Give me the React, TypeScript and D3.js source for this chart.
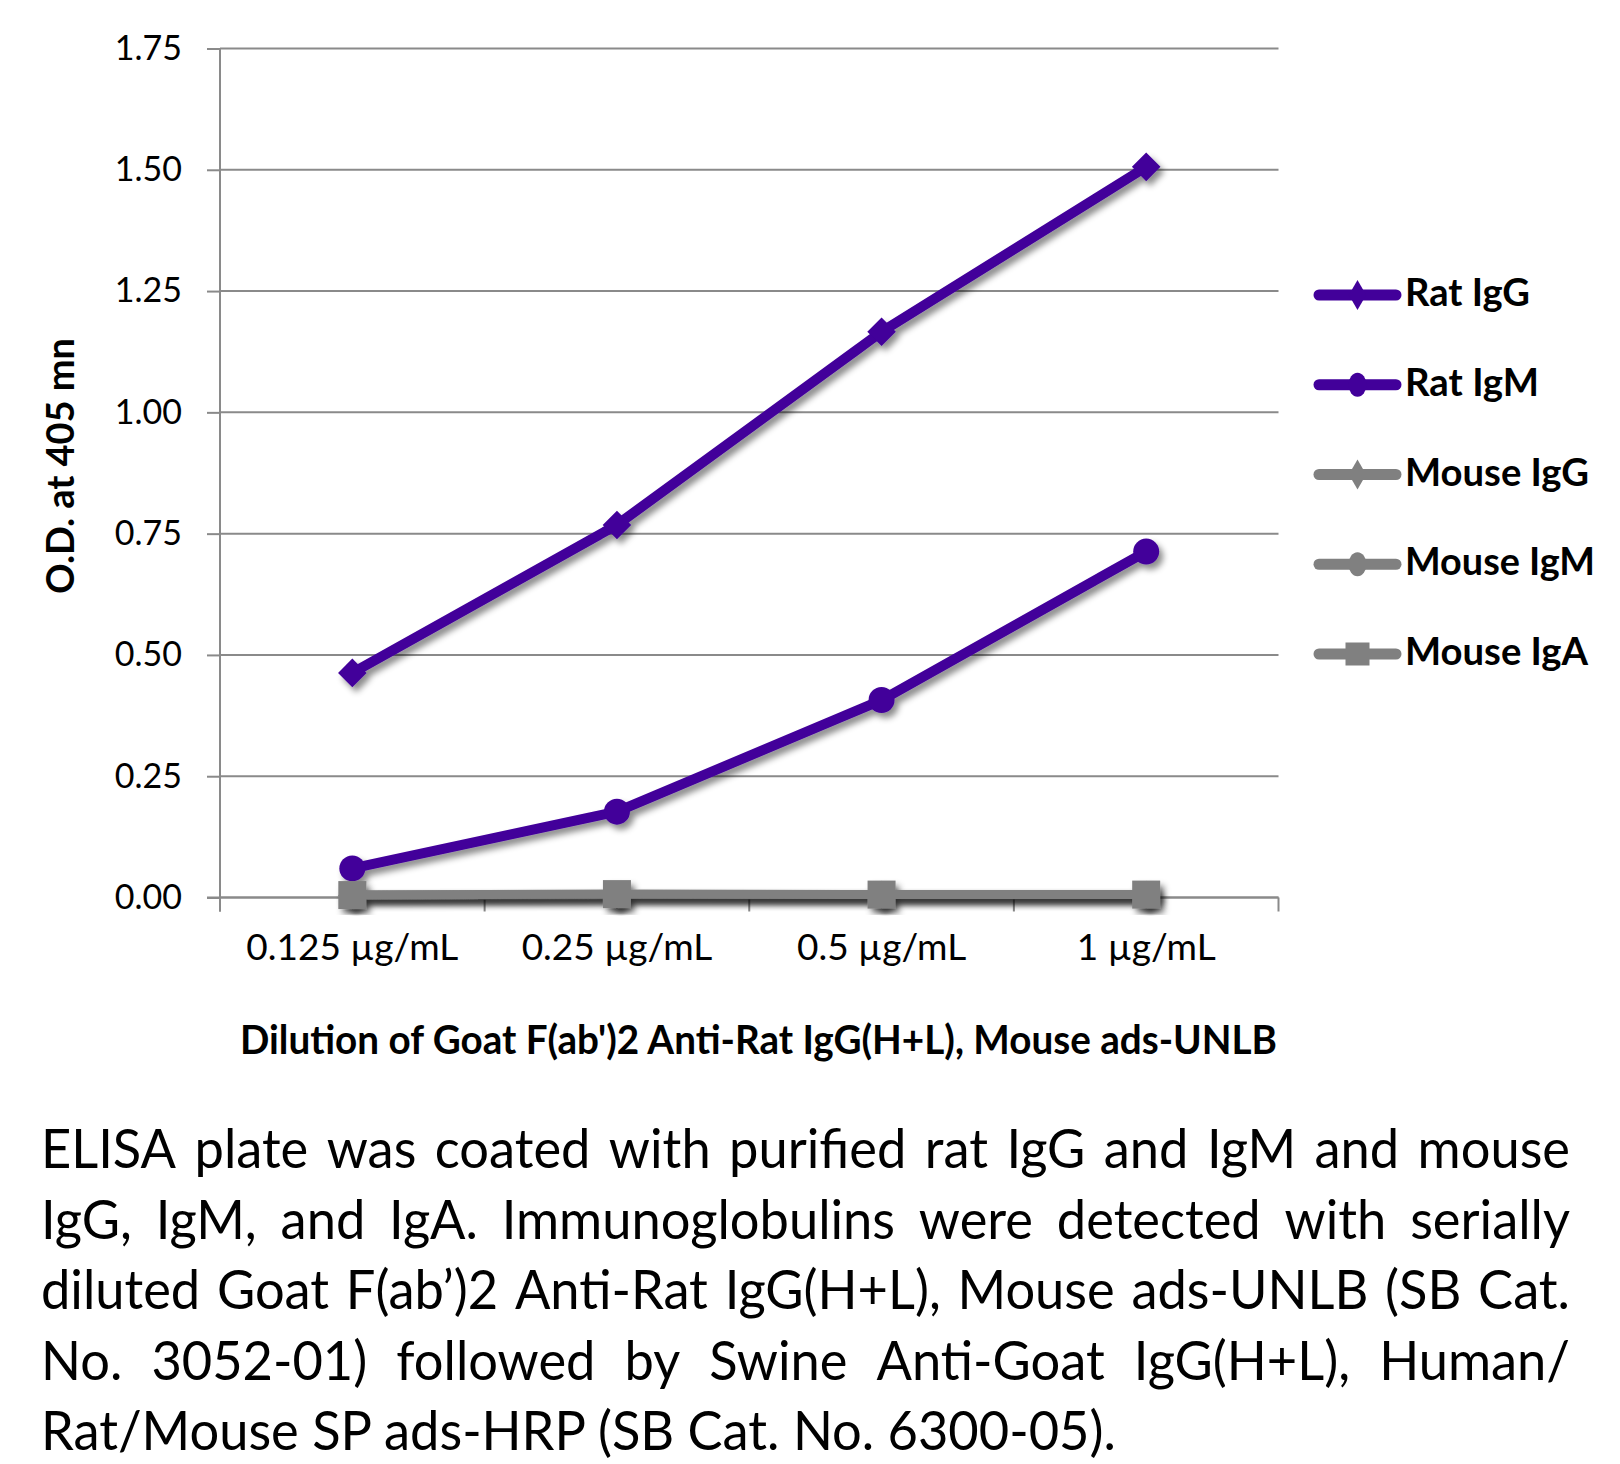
import React, { useRef, useEffect } from 'react';
import * as d3 from 'd3';

// dilutions on the x axis
const categories = ['0.125 µg/mL', '0.25 µg/mL', '0.5 µg/mL', '1 µg/mL'];

// O.D. at 405
const ratIgG = [0.463, 0.768, 1.166, 1.506];
const ratIgM = [0.06, 0.177, 0.407, 0.713];
const mouseIgG = [0.004, 0.005, 0.005, 0.005];
const mouseIgM = [0.005, 0.006, 0.006, 0.006];
const mouseIgA = [0.005, 0.007, 0.006, 0.006];

const seriesNames = ['Rat IgG', 'Rat IgM', 'Mouse IgG', 'Mouse IgM', 'Mouse IgA'];
const seriesValues = [ratIgG, ratIgM, mouseIgG, mouseIgM, mouseIgA];
const seriesMarkers = ['diamond', 'circle', 'diamond', 'circle', 'square'];

const yTicks = [0, 0.25, 0.5, 0.75, 1.0, 1.25, 1.5, 1.75];

const yTitle = 'O.D. at 405 mn';
const xTitle = "Dilution of Goat F(ab')2 Anti-Rat IgG(H+L), Mouse ads-UNLB";

const captionLines = [
  'ELISA plate was coated with purified rat IgG and IgM and mouse',
  'IgG, IgM, and IgA.  Immunoglobulins were detected with serially',
  'diluted Goat F(ab’)2 Anti-Rat IgG(H+L), Mouse ads-UNLB (SB Cat.',
  'No. 3052-01) followed by Swine Anti-Goat IgG(H+L), Human/',
  'Rat/Mouse SP ads-HRP (SB Cat. No. 6300-05).',
];

const PURPLE = '#42009a';
const GRAY = '#808080';
const GRID = '#8a8a8a';
const FONT = 'Lato, "Open Sans", sans-serif';

const W = 1620;
const H = 1464;

const App: React.FC = () => {
  const svgRef = useRef<SVGSVGElement>(null);

  const plot = { left: 220, right: 1278.5, top: 48.5, bottom: 897.5 };

  const x = d3.scaleBand<string>()
    .domain(categories)
    .range([plot.left, plot.right])
    .padding(0);

  const y = d3.scaleLinear()
    .domain([0, 1.75])
    .range([plot.bottom, plot.top]);

  const cx = (i: number) => (x(categories[i]) as number) + x.bandwidth() / 2;

  const line = d3.line<number>()
    .x((_, i) => cx(i))
    .y((d) => y(d));

  const colorOf = (i: number) => (i < 2 ? PURPLE : GRAY);

  useEffect(() => {
    if (!svgRef.current) return;
    const svg = d3.select(svgRef.current);

    // Y axis
    const yAxis = svg.select<SVGGElement>('.y-axis')
      .attr('transform', `translate(${plot.left},0)`)
      .call(d3.axisLeft(y).tickValues(yTicks).tickFormat(d3.format('.2f')).tickSizeInner(13).tickSizeOuter(0).tickPadding(25));
    yAxis.select('.domain').remove();
    yAxis.selectAll('line').attr('stroke', GRID).attr('stroke-width', 2);
    yAxis.selectAll('text')
      .style('font-family', FONT)
      .style('font-size', '34px')
      .attr('fill', '#000');

    // X axis labels
    const xAxis = svg.select<SVGGElement>('.x-axis')
      .attr('transform', `translate(0,${plot.bottom})`)
      .call(d3.axisBottom(x).tickSize(0).tickPadding(36));
    xAxis.select('.domain').remove();
    xAxis.selectAll('text')
      .style('font-family', FONT)
      .style('font-size', '37px')
      .attr('fill', '#000');

    // Caption: condense to the reference face, then justify
    const cap = svg.select<SVGGElement>('.caption');
    const last = cap.select<SVGTextElement>('.cap-4').node();
    if (!last) return;
    const k = 1075 / last.getComputedTextLength();
    cap.attr('transform', `translate(41,0) scale(${k},1)`);
    const target = 1529 / k;
    for (let li = 0; li < 4; li++) {
      const t = cap.select<SVGTextElement>(`.cap-${li}`);
      const spans = t.selectAll<SVGTSpanElement, unknown>('tspan').nodes();
      const widths = spans.map((s) => s.getComputedTextLength());
      const total = d3.sum(widths);
      const gap = (target - total) / (spans.length - 1);
      let pos = 0;
      spans.forEach((s, i) => {
        d3.select(s).attr('x', pos);
        pos += widths[i] + gap;
      });
    }
  }, []);

  const boundaries = [...categories.map((c) => x(c) as number), plot.right];

  const marker = (type: string, px: number, py: number, color: string, key: string, legend = false) => {
    if (type === 'circle') {
      return legend
        ? <ellipse key={key} cx={px} cy={py} rx={9} ry={12} fill={color} />
        : <circle key={key} cx={px} cy={py} r={13} fill={color} />;
    }
    if (type === 'square') {
      return legend
        ? <rect key={key} x={px - 12} y={py - 11.5} width={24} height={23} fill={color} />
        : <rect key={key} x={px - 14} y={py - 14} width={28} height={28} fill={color} />;
    }
    const sym = legend
      ? d3.symbol(d3.symbolDiamond, 260)
      : d3.symbol(d3.symbolDiamond2, 520);
    return <path key={key} d={sym() as string} transform={`translate(${px},${py})`} fill={color} />;
  };

  const legendY = (i: number) => 295 + i * 89.75;
  const legendWidths = [125, 134, 184, 190, 183];

  return (
    <svg
      ref={svgRef}
      width={W}
      height={H}
      viewBox={`0 0 ${W} ${H}`}
      style={{ position: 'absolute', left: 0, top: 0, background: '#fff' }}
    >
      <defs>
        <filter id="shadow" x="-20%" y="-20%" width="140%" height="140%">
          <feDropShadow dx="4" dy="5" stdDeviation="3" floodColor="#000" floodOpacity="0.45" />
        </filter>
      </defs>
      <rect width={W} height={H} fill="#fff" />

      {/* gridlines */}
      <g>
        {yTicks.map((t) => (
          <line key={t} x1={plot.left} x2={plot.right} y1={y(t)} y2={y(t)} stroke={GRID} strokeWidth={2} />
        ))}
      </g>

      {/* axis lines */}
      <line x1={plot.left} x2={plot.left} y1={plot.top} y2={plot.bottom + 14} stroke={GRID} strokeWidth={2} />
      <line x1={plot.left - 13} x2={plot.right} y1={plot.bottom} y2={plot.bottom} stroke={GRID} strokeWidth={2} />
      {boundaries.map((b) => (
        <line key={b} x1={b} x2={b} y1={plot.bottom} y2={plot.bottom + 14} stroke={GRID} strokeWidth={2} />
      ))}

      <g className="y-axis" />
      <g className="x-axis" />

      {/* series */}
      {seriesValues.map((vals, si) => (
        <g key={seriesNames[si]} filter="url(#shadow)">
          <path d={line(vals) as string} fill="none" stroke={colorOf(si)} strokeWidth={si < 2 ? 10 : 9} strokeLinejoin="round" />
          {vals.map((v, i) => marker(seriesMarkers[si], cx(i), y(v), colorOf(si), `${si}-${i}`))}
        </g>
      ))}

      {/* legend */}
      <g>
        {seriesNames.map((name, i) => (
          <g key={name}>
            <line x1={1319} x2={1396} y1={legendY(i)} y2={legendY(i)} stroke={colorOf(i)} strokeWidth={11} strokeLinecap="round" />
            {marker(seriesMarkers[i], 1357.5, legendY(i), colorOf(i), `lg-${i}`, true)}
            <text
              x={1405}
              y={legendY(i) + 11}
              fontFamily={FONT}
              fontWeight="bold"
              fontSize={39}
              textLength={legendWidths[i]}
              lengthAdjust="spacingAndGlyphs"
              fill="#000"
            >
              {name}
            </text>
          </g>
        ))}
      </g>

      {/* axis titles */}
      <text
        transform={`translate(74,${(plot.top + plot.bottom) / 2 - 7}) rotate(-90)`}
        textAnchor="middle"
        fontFamily={FONT}
        fontWeight="bold"
        fontSize={38}
        textLength={256}
        lengthAdjust="spacingAndGlyphs"
        fill="#000"
      >
        {yTitle}
      </text>
      <text
        x={240}
        y={1054}
        fontFamily={FONT}
        fontWeight="bold"
        fontSize={40}
        textLength={1037}
        lengthAdjust="spacingAndGlyphs"
        fill="#000"
      >
        {xTitle}
      </text>

      {/* caption */}
      <g className="caption" fontFamily={FONT} fontSize={54} fill="#000">
        {captionLines.map((ln, i) => (
          <text key={i} className={`cap-${i}`} x={0} y={1168.5 + i * 70.5}>
            {i < 4
              ? ln.split(/\s+/).map((w, wi) => <tspan key={wi}>{w}</tspan>)
              : ln}
          </text>
        ))}
      </g>
    </svg>
  );
};

export default App;
